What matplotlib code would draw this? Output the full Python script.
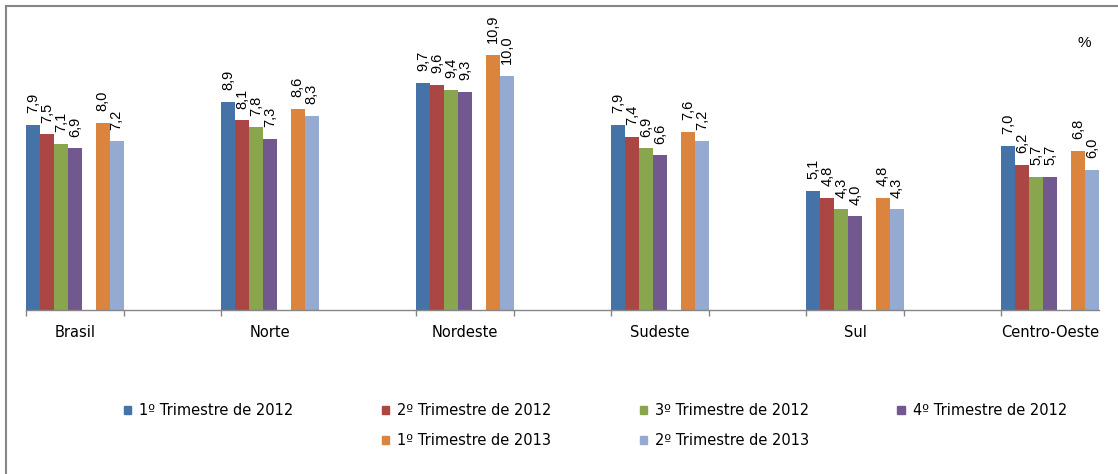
import numpy as np
import matplotlib
matplotlib.use("Agg")
import matplotlib.pyplot as plt
from matplotlib.patches import Patch
from matplotlib.lines import Line2D

# regiões e séries (taxa de desocupação, %)
regioes = ["Brasil", "Norte", "Nordeste", "Sudeste", "Sul", "Centro-Oeste"]
series = ["1º Trimestre de 2012", "2º Trimestre de 2012", "3º Trimestre de 2012",
          "4º Trimestre de 2012", "1º Trimestre de 2013", "2º Trimestre de 2013"]
t1_2012 = [7.9, 8.9, 9.7, 7.9, 5.1, 7.0]
t2_2012 = [7.5, 8.1, 9.6, 7.4, 4.8, 6.2]
t3_2012 = [7.1, 7.8, 9.4, 6.9, 4.3, 5.7]
t4_2012 = [6.9, 7.3, 9.3, 6.6, 4.0, 5.7]
t1_2013 = [8.0, 8.6, 10.9, 7.6, 4.8, 6.8]
t2_2013 = [7.2, 8.3, 10.0, 7.2, 4.3, 6.0]
cores = ["#4673A7", "#AA4745", "#89A54E", "#71598F", "#DB843D", "#94AAD0"]

valores = [t1_2012, t2_2012, t3_2012, t4_2012, t1_2013, t2_2013]
slots = [0, 1, 2, 3, 5, 6]  # slot 4 fica vazio

W, H = 1118, 474
fig = plt.figure(figsize=(W / 100, H / 100), dpi=100)
ax = fig.add_axes([26 / W, 1 - 310 / H, (1099 - 26) / W, (310 - 29) / H])

# cada região ocupa uma categoria, com uma categoria vazia entre elas
cat = np.arange(len(regioes)) * 2
bw = 1 / 7
handles = []
for vals, s, cor, nome in zip(valores, slots, cores, series):
    x = cat + (s + 0.5) * bw
    ax.bar(x, vals, width=bw, color=cor, linewidth=0)
    handles.append(Patch(color=cor, label=nome))
    for xi, v in zip(x, vals):
        ax.annotate(f"{v:.1f}".replace(".", ","), (xi, v), xytext=(0, 8.5),
                    textcoords="offset points", rotation=90, ha="center", va="bottom",
                    fontsize=10.5, family="Liberation Sans")

ax.set_xlim(0, 11)
ax.set_ylim(0, 12)
ax.set_yticks([])
for s in ["left", "right", "top"]:
    ax.spines[s].set_visible(False)
ax.spines["bottom"].set_color("#868686")
ax.spines["bottom"].set_linewidth(1)

ax.set_xticks([0, 1, 2, 4, 5, 6, 7, 8, 9, 10])
ax.set_xticklabels([])
ax.tick_params(axis="x", which="major", length=4.5, color="#868686", width=1)
ax.set_xticks(cat + 0.5, minor=True)
ax.set_xticklabels(regioes, minor=True, fontsize=10.5)
ax.tick_params(axis="x", which="minor", length=0, pad=11)

ax.text(1084 / W, 1 - 43 / H, "%", transform=fig.transFigure, ha="center", va="center",
        fontsize=11, family="Liberation Sans")

# legenda em duas linhas (segunda linha começa na segunda coluna)
vazio = Patch(alpha=0, label=" ")
ordem = [handles[0], vazio, handles[1], handles[4], handles[2], handles[5], handles[3], vazio]
fig.legend(handles=ordem, labels=[h.get_label() for h in ordem], ncol=4,
           loc="upper left", bbox_to_anchor=(124 / W, 1 - 403 / H), frameon=False,
           fontsize=10.5, handlelength=0.5, handleheight=0.5, handletextpad=0.55,
           columnspacing=6.05, labelspacing=1.05, borderpad=0, borderaxespad=0)

# moldura do gráfico
fig.add_artist(Line2D([6 / W, 1], [1 - 6 / H, 1 - 6 / H], color="#868686", lw=1.5,
                      transform=fig.transFigure))
fig.add_artist(Line2D([6 / W, 6 / W], [0, 1 - 6 / H], color="#868686", lw=1.5,
                      transform=fig.transFigure))

fig.savefig("out.png", dpi=100)
